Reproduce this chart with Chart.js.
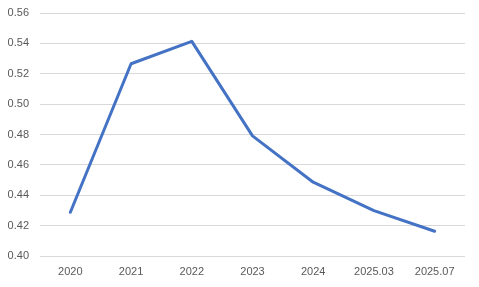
<!DOCTYPE html>
<html>
<head>
<meta charset="utf-8">
<script src="https://cdn.jsdelivr.net/npm/chart.js@4"></script>
<style>
html,body{margin:0;padding:0;background:#fff;}
#wrap{width:479px;height:287px;}
</style>
</head>
<body>
<div id="wrap"><canvas id="c" width="479" height="287"></canvas></div>
<script>
const categories = ["2020","2021","2022","2023","2024","2025.03","2025.07"];
const values = [0.4288, 0.5266, 0.5413, 0.4791, 0.4486, 0.4299, 0.4163];
const yMin = 0.40, yMax = 0.56, yStep = 0.02;

const labelFont = {family: "'Liberation Sans', Arial, sans-serif", size: 11};
new Chart(document.getElementById('c'), {
  type: 'line',
  data: {
    labels: categories,
    datasets: [{
      data: values,
      borderColor: '#4472C4',
      borderWidth: 3,
      pointRadius: 0,
      fill: false,
      tension: 0,
      borderCapStyle: 'round',
      borderJoinStyle: 'round'
    }]
  },
  options: {
    responsive: false,
    animation: false,
    devicePixelRatio: 1,
    layout: {padding: {top: 13, right: 14, left: 0, bottom: 0}},
    plugins: {legend: {display: false}, tooltip: {enabled: false}},
    scales: {
      x: {
        offset: true,
        grid: {display: false, drawTicks: false},
        border: {display: false},
        ticks: {color: '#595959', font: labelFont, padding: 9, maxRotation: 0, autoSkip: false},
        afterFit: s => { s.height = 31; s.paddingLeft = 0; s.paddingRight = 0; }
      },
      y: {
        min: yMin, max: yMax,
        grid: {color: '#d9d9d9', lineWidth: 1, drawTicks: false},
        border: {display: false},
        ticks: {stepSize: yStep, color: '#595959', font: labelFont, padding: 11,
                callback: v => v.toFixed(2)},
        afterFit: s => { s.width = 40; s.paddingTop = 0; s.paddingBottom = 0; }
      }
    }
  }
});
</script>
</body>
</html>
